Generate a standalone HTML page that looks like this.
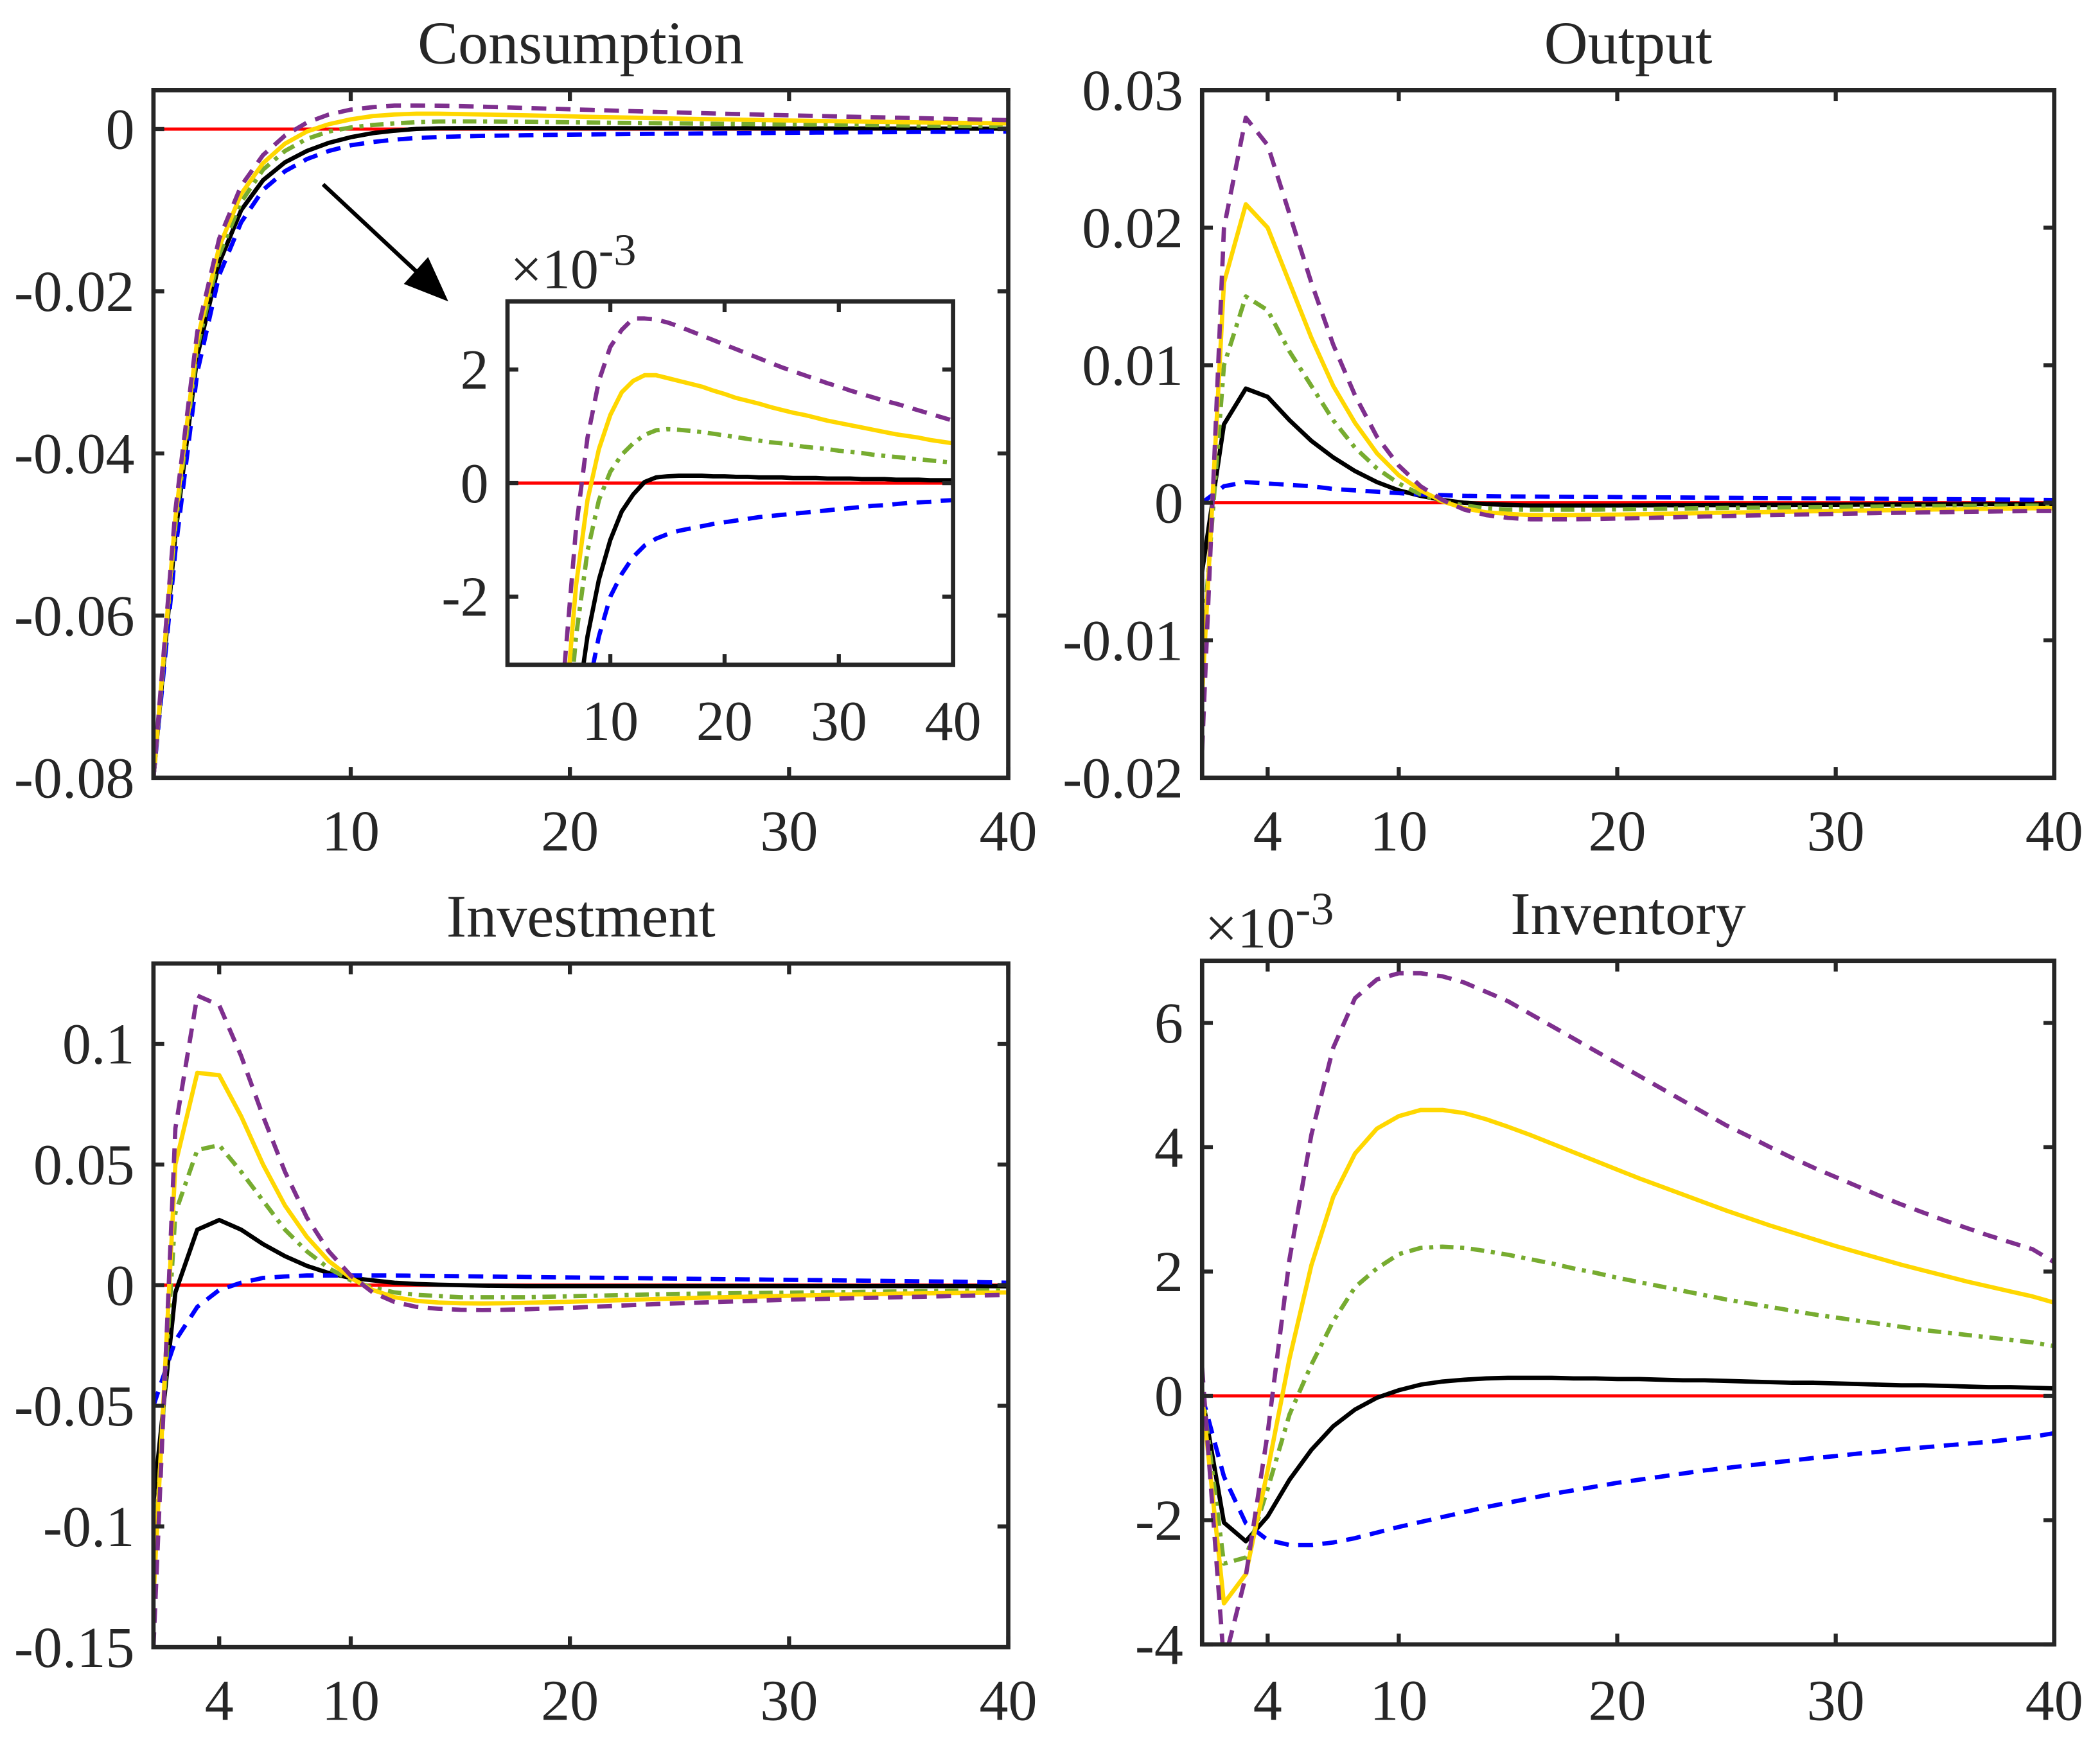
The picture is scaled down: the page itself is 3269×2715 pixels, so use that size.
<!DOCTYPE html>
<html><head><meta charset="utf-8"><style>
html,body{margin:0;padding:0;background:#fff;overflow:hidden;width:3269px;height:2715px;}
svg{display:block;}
text{font-family:"Liberation Serif",serif;fill:#262626;}
</style></head><body>
<svg id="fig" width="3269" height="2715" viewBox="0 0 1560 1296" preserveAspectRatio="none" xmlns="http://www.w3.org/2000/svg">
<defs id="defs"></defs>
<rect x="0" y="0" width="1560" height="1296" fill="#fff"/>
</svg>
<script>
const periods = Array.from({length:40},(_,i)=>i+1);
// Consumption
const consBlack=[-0.08,-0.050,-0.028,-0.0165,-0.0100,-0.0063,-0.0041,-0.0027,-0.0017,-0.0010,-0.0005,-0.0002,0.00002,0.0001,0.00012,0.00013,0.00013,0.00013,0.00012,0.00012,0.00011,0.00011,0.0001,0.0001,0.0001,0.00009,0.00009,0.00009,0.00008,0.00008,0.00008,0.00007,0.00007,0.00007,0.00006,0.00006,0.00006,0.00005,0.00005,0.00005];
const consBlue=[-0.08,-0.052,-0.030,-0.018,-0.0115,-0.0075,-0.0052,-0.0037,-0.0027,-0.0020,-0.0016,-0.0013,-0.0011,-0.00098,-0.0009,-0.00084,-0.0008,-0.00076,-0.00072,-0.00069,-0.00066,-0.00063,-0.0006,-0.00058,-0.00056,-0.00054,-0.00052,-0.0005,-0.00048,-0.00046,-0.00044,-0.00042,-0.0004,-0.00039,-0.00037,-0.00035,-0.00034,-0.00033,-0.00031,-0.0003];
const consGreen=[-0.08,-0.049,-0.027,-0.0155,-0.0090,-0.0050,-0.0027,-0.0012,-0.0003,0.0002,0.0005,0.0007,0.00085,0.00093,0.00095,0.00094,0.00092,0.0009,0.00087,0.00084,0.00081,0.00078,0.00075,0.00072,0.0007,0.00067,0.00064,0.00062,0.0006,0.00057,0.00055,0.00053,0.0005,0.00048,0.00046,0.00044,0.00042,0.0004,0.00038,0.00036];
const consYellow=[-0.08,-0.048,-0.026,-0.0145,-0.0080,-0.0042,-0.0018,-0.0003,0.0006,0.0012,0.0016,0.0018,0.0019,0.0019,0.00185,0.0018,0.00175,0.0017,0.00163,0.00157,0.0015,0.00145,0.0014,0.00134,0.00129,0.00124,0.0012,0.00115,0.0011,0.00106,0.00102,0.00098,0.00094,0.0009,0.00086,0.00083,0.0008,0.00076,0.00073,0.0007];
const consPurple=[-0.08,-0.047,-0.025,-0.0135,-0.0070,-0.0032,-0.0008,0.0008,0.0018,0.0024,0.0027,0.0029,0.0029,0.00288,0.00283,0.00276,0.00268,0.0026,0.00252,0.00244,0.00236,0.00228,0.0022,0.00212,0.00204,0.00197,0.0019,0.00183,0.00176,0.0017,0.00163,0.00157,0.00151,0.00145,0.0014,0.00134,0.00128,0.00122,0.00116,0.0011];
// Output
const outBlack=[-0.005,0.0057,0.0083,0.0077,0.006,0.0045,0.0033,0.0023,0.0015,0.0009,0.0005,0.0002,0,-0.0001,-0.00015,-0.0002,-0.0002,-0.0002,-0.0002,-0.0002,-0.00019,-0.00018,-0.00018,-0.00017,-0.00016,-0.00016,-0.00015,-0.00015,-0.00014,-0.00014,-0.00013,-0.00013,-0.00012,-0.00012,-0.00011,-0.00011,-0.0001,-0.0001,-0.0001,-0.0001];
const outBlue=[0,0.0012,0.0015,0.0014,0.0013,0.0012,0.001,0.0009,0.0008,0.0007,0.0006,0.00055,0.0005,0.00048,0.00046,0.00045,0.00044,0.00043,0.00042,0.00041,0.0004,0.00039,0.00038,0.00037,0.00036,0.00035,0.00034,0.00033,0.00032,0.00031,0.0003,0.00029,0.00028,0.00027,0.00026,0.00025,0.00024,0.00023,0.00022,0.0002];
const outGreen=[-0.011,0.010,0.015,0.014,0.011,0.0085,0.006,0.004,0.0025,0.0014,0.0006,0.0001,-0.0002,-0.0004,-0.0005,-0.0005,-0.0005,-0.0005,-0.0005,-0.00048,-0.00046,-0.00044,-0.00042,-0.0004,-0.00038,-0.00036,-0.00035,-0.00033,-0.00032,-0.0003,-0.00029,-0.00028,-0.00026,-0.00025,-0.00024,-0.00023,-0.00022,-0.00021,-0.0002,-0.0002];
const outYellow=[-0.014,0.016,0.0217,0.020,0.016,0.012,0.0085,0.0058,0.0036,0.002,0.0009,0.0001,-0.0004,-0.0007,-0.0008,-0.0009,-0.0009,-0.0009,-0.00088,-0.00086,-0.00084,-0.00081,-0.00078,-0.00075,-0.00072,-0.0007,-0.00067,-0.00064,-0.00062,-0.0006,-0.00057,-0.00055,-0.00053,-0.0005,-0.00048,-0.00046,-0.00044,-0.00042,-0.0004,-0.0004];
const outPurple=[-0.018,0.020,0.028,0.026,0.021,0.016,0.0115,0.0078,0.0048,0.0027,0.0012,0.0002,-0.0005,-0.0009,-0.0011,-0.0012,-0.0012,-0.0012,-0.00118,-0.00115,-0.00112,-0.00108,-0.00104,-0.001,-0.00097,-0.00093,-0.0009,-0.00087,-0.00084,-0.00081,-0.00078,-0.00075,-0.00073,-0.0007,-0.00068,-0.00066,-0.00064,-0.00062,-0.0006,-0.0006];
// Investment
const invBlack=[-0.09,-0.003,0.023,0.027,0.023,0.017,0.012,0.008,0.005,0.003,0.002,0.001,0.0005,0.0002,0,-0.0002,-0.0003,-0.0004,-0.0004,-0.0004,-0.0004,-0.0004,-0.0004,-0.0004,-0.0004,-0.0004,-0.0004,-0.0004,-0.0004,-0.0004,-0.0004,-0.0004,-0.0004,-0.0004,-0.0004,-0.0004,-0.0004,-0.0004,-0.0004,-0.0005];
const invBlue=[-0.05,-0.023,-0.009,-0.002,0.001,0.003,0.0036,0.004,0.004,0.004,0.004,0.004,0.0039,0.0038,0.0037,0.0036,0.0035,0.0034,0.0033,0.0032,0.0031,0.003,0.0029,0.0028,0.0027,0.0026,0.0025,0.0024,0.0023,0.0022,0.0021,0.002,0.0019,0.0018,0.0017,0.0016,0.0015,0.0014,0.0012,0.001];
const invGreen=[-0.12,0.03,0.056,0.058,0.047,0.035,0.023,0.014,0.007,0.002,-0.001,-0.003,-0.004,-0.0045,-0.005,-0.005,-0.005,-0.005,-0.0048,-0.0046,-0.0044,-0.0042,-0.004,-0.0038,-0.0036,-0.0035,-0.0034,-0.0033,-0.0032,-0.0031,-0.003,-0.0029,-0.0028,-0.0027,-0.0026,-0.0025,-0.0024,-0.0023,-0.0022,-0.002];
const invYellow=[-0.13,0.05,0.088,0.087,0.07,0.05,0.033,0.02,0.01,0.003,-0.002,-0.005,-0.0065,-0.0072,-0.0075,-0.0076,-0.0075,-0.0073,-0.0071,-0.0069,-0.0066,-0.0063,-0.006,-0.0057,-0.0055,-0.0052,-0.005,-0.0048,-0.0046,-0.0044,-0.0042,-0.004,-0.0038,-0.0037,-0.0035,-0.0034,-0.0033,-0.0032,-0.0031,-0.003];
const invPurple=[-0.15,0.065,0.12,0.116,0.095,0.07,0.047,0.028,0.014,0.004,-0.003,-0.007,-0.009,-0.0098,-0.0102,-0.0103,-0.0102,-0.01,-0.0097,-0.0094,-0.009,-0.0086,-0.0082,-0.0078,-0.0075,-0.0072,-0.0069,-0.0066,-0.0063,-0.006,-0.0058,-0.0056,-0.0054,-0.0052,-0.005,-0.0048,-0.0046,-0.0044,-0.0042,-0.004];
// Inventory (x1e-3)
const stkBlack=[0,-2.04,-2.34,-1.94,-1.35,-0.87,-0.49,-0.22,-0.03,0.09,0.18,0.23,0.26,0.28,0.29,0.29,0.29,0.28,0.28,0.27,0.27,0.26,0.25,0.25,0.24,0.23,0.22,0.21,0.21,0.2,0.19,0.18,0.17,0.17,0.16,0.15,0.14,0.14,0.13,0.12];
const stkBlue=[0,-1.3,-2.05,-2.32,-2.4,-2.4,-2.36,-2.29,-2.2,-2.11,-2.03,-1.95,-1.87,-1.79,-1.72,-1.65,-1.58,-1.52,-1.46,-1.4,-1.35,-1.3,-1.25,-1.2,-1.16,-1.12,-1.08,-1.04,-1.0,-0.97,-0.93,-0.9,-0.86,-0.83,-0.8,-0.77,-0.74,-0.7,-0.66,-0.6];
const stkGreen=[0.1,-2.7,-2.6,-1.5,-0.3,0.5,1.2,1.75,2.05,2.28,2.38,2.4,2.38,2.33,2.27,2.2,2.13,2.05,1.98,1.9,1.83,1.76,1.69,1.62,1.55,1.49,1.43,1.37,1.31,1.26,1.21,1.16,1.11,1.06,1.02,0.98,0.94,0.9,0.86,0.8];
const stkYellow=[0,-3.34,-2.87,-1.2,0.6,2.1,3.2,3.9,4.3,4.5,4.6,4.6,4.55,4.45,4.33,4.2,4.06,3.92,3.78,3.64,3.5,3.37,3.24,3.11,2.98,2.86,2.74,2.63,2.52,2.41,2.31,2.21,2.11,2.02,1.93,1.84,1.76,1.68,1.6,1.5];
const stkPurple=[0.45,-4.3,-2.9,-0.6,2.2,4.2,5.6,6.4,6.7,6.8,6.8,6.75,6.65,6.5,6.35,6.15,5.95,5.75,5.55,5.35,5.15,4.95,4.75,4.55,4.35,4.18,4.0,3.83,3.67,3.52,3.37,3.22,3.08,2.95,2.82,2.7,2.58,2.47,2.36,2.15];

const ticksConsY=[0,-0.02,-0.04,-0.06,-0.08], labConsY=["0","-0.02","-0.04","-0.06","-0.08"];
const ticksX1=[10,20,30,40];
const ticksX2=[4,10,20,30,40];
const ticksInsetY=[2,0,-2];
const ticksOutY=[0.03,0.02,0.01,0,-0.01,-0.02], labOutY=["0.03","0.02","0.01","0","-0.01","-0.02"];
const ticksInvY=[0.1,0.05,0,-0.05,-0.1,-0.15], labInvY=["0.1","0.05","0","-0.05","-0.1","-0.15"];
const ticksStkY=[6,4,2,0,-2,-4];

const NS="http://www.w3.org/2000/svg";
const svg=document.getElementById('fig');
const defs=document.getElementById('defs');
const AX="#262626";
const styles={
 black:{c:"#000000",d:null},
 blue:{c:"#0000FF",d:"11,7"},
 green:{c:"#77AC30",d:"10,5,3,5"},
 yellow:{c:"#FFD700",d:null},
 purple:{c:"#7E2F8E",d:"11,7"}
};
function mk(tag,attrs,parent){const e=document.createElementNS(NS,tag);for(const k in attrs)e.setAttribute(k,attrs[k]);(parent||svg).appendChild(e);return e;}
let clipN=0;
function panel(o){
 const g=mk('g',{});
 
 
 const sx=v=>o.l+(v-o.x0)/(o.x1-o.x0)*(o.r-o.l);
 const sy=v=>o.b-(v-o.y0)/(o.y1-o.y0)*(o.b-o.t);
 const id='clip'+(clipN++);
 const cp=mk('clipPath',{id:id},defs);
 mk('rect',{x:o.l,y:o.t,width:o.r-o.l,height:o.b-o.t},cp);
 if(o.fill){mk('rect',{x:o.l,y:o.t,width:o.r-o.l,height:o.b-o.t,fill:'#fff'},g);}
 const pg=mk('g',{'clip-path':'url(#'+id+')'},g);
 const zl=mk('line',{x1:o.l,x2:o.r,y1:sy(0),y2:sy(0),stroke:'#FF0000','stroke-width':2.4},pg);
 
 
 for(const s of o.series){
  const st=styles[s.k];
  const pts=periods.map((t,i)=>sx(t).toFixed(2)+','+sy(s.v[i]*o.scale).toFixed(2)).join(' ');
  const pl=mk('polyline',{points:pts,fill:'none',stroke:st.c,'stroke-width':3.2,'stroke-linejoin':'round'},pg);
  if(st.d)pl.setAttribute('stroke-dasharray',st.d);
  
  
 }
 const TL=8;
 o.xt.forEach(v=>{
  mk('line',{x1:sx(v),x2:sx(v),y1:o.b,y2:o.b-TL,stroke:AX,'stroke-width':3},g);
  mk('line',{x1:sx(v),x2:sx(v),y1:o.t,y2:o.t+TL,stroke:AX,'stroke-width':3},g);
  const tx=mk('text',{x:sx(v),y:o.b+o.xlOff,'font-size':o.fs,'text-anchor':'middle'},g);
  tx.textContent=String(v);
  
  
 });
 o.yt.forEach((v,i)=>{
  mk('line',{x1:o.l,x2:o.l+TL,y1:sy(v),y2:sy(v),stroke:AX,'stroke-width':3},g);
  mk('line',{x1:o.r,x2:o.r-TL,y1:sy(v),y2:sy(v),stroke:AX,'stroke-width':3},g);
  const tx=mk('text',{x:o.l-14,y:sy(v)+o.fs*0.34,'font-size':o.fs,'text-anchor':'end'},g);
  tx.textContent=o.yl?o.yl[i]:String(v);
  
  
 });
 mk('rect',{x:o.l,y:o.t,width:o.r-o.l,height:o.b-o.t,fill:'none',stroke:AX,'stroke-width':3.2},g);
 if(o.title){
  const tt=mk('text',{x:(o.l+o.r)/2,y:o.t-20,'font-size':45,'text-anchor':'middle',fill:'#000'},g);
  tt.textContent=o.title;
  
  
 }
 if(o.mult){
  const mt=mk('text',{x:o.l+2,y:o.t-10,'font-size':o.fs,'text-anchor':'start'},g);
  mt.innerHTML='×10<tspan dy="-17" font-size="'+(o.fs*0.8)+'">-3</tspan>';
  
  
 }
}
const cons=[{k:'black',v:consBlack},{k:'blue',v:consBlue},{k:'green',v:consGreen},{k:'yellow',v:consYellow},{k:'purple',v:consPurple}];
panel({name:'consumption-panel',title:'Consumption',l:114,r:749,t:67,b:578,x0:1,x1:40,y0:-0.08,y1:0.0048,scale:1,series:cons,xt:ticksX1,yt:ticksConsY,yl:labConsY,fs:43,xlOff:54});
const ar=mk('g',{});


mk('line',{x1:240,y1:137,x2:316,y2:208,stroke:'#000','stroke-width':3},ar);
mk('polygon',{points:'333,224 300,211 318,191',fill:'#000'},ar);
panel({name:'consumption-inset',l:377,r:708,t:224,b:494,x0:1,x1:40,y0:-3.2,y1:3.2,scale:1000,series:cons,xt:ticksX1,yt:ticksInsetY,fs:42,xlOff:56,mult:true,fill:true});
panel({name:'output-panel',title:'Output',l:893,r:1526,t:67,b:578,x0:1,x1:40,y0:-0.02,y1:0.03,scale:1,
 series:[{k:'black',v:outBlack},{k:'blue',v:outBlue},{k:'green',v:outGreen},{k:'yellow',v:outYellow},{k:'purple',v:outPurple}],
 xt:ticksX2,yt:ticksOutY,yl:labOutY,fs:43,xlOff:54});
panel({name:'investment-panel',title:'Investment',l:114,r:749,t:716,b:1224,x0:1,x1:40,y0:-0.15,y1:0.1333,scale:1,
 series:[{k:'black',v:invBlack},{k:'blue',v:invBlue},{k:'green',v:invGreen},{k:'yellow',v:invYellow},{k:'purple',v:invPurple}],
 xt:ticksX2,yt:ticksInvY,yl:labInvY,fs:43,xlOff:54});
panel({name:'inventory-panel',title:'Inventory',l:893,r:1526,t:714,b:1222,x0:1,x1:40,y0:-4,y1:7,scale:1,
 series:[{k:'black',v:stkBlack},{k:'blue',v:stkBlue},{k:'green',v:stkGreen},{k:'yellow',v:stkYellow},{k:'purple',v:stkPurple}],
 xt:ticksX2,yt:ticksStkY,fs:43,xlOff:56,mult:true});
</script>
</body></html>
